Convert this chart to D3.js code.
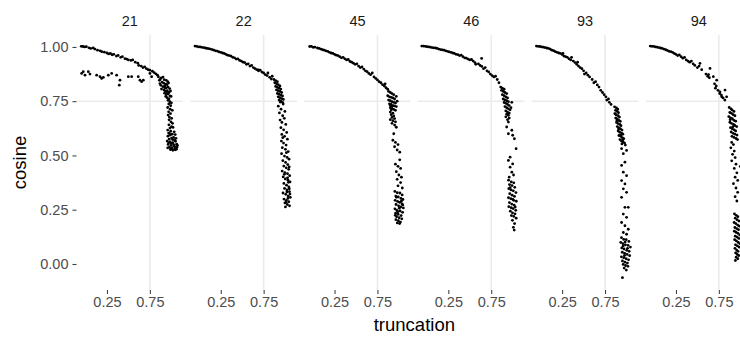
<!DOCTYPE html>
<html><head><meta charset="utf-8">
<script src="https://cdn.jsdelivr.net/npm/d3@7"></script>
<style>body{margin:0;background:#fff}svg{display:block}text{font-family:"Liberation Sans",Arial,sans-serif}</style>
</head><body>
<svg id="c" width="740" height="337"></svg>
<script>
const facets = ["21","22","45","46","93","94"];
const yTicks = [0, 0.25, 0.5, 0.75, 1];
const yTickLabels = ["0.00","0.25","0.50","0.75","1.00"];
const xTicks = [0.25, 0.75];
const xTickLabels = ["0.25","0.75"];
const refLines = {x: 0.75, y: 0.75};

const pts21 = [[-0.05,1.003],[-0.03,1.002],[-0.01,1.0],[0.01,1.001],[0.04,0.996],[0.06,0.993],[0.09,0.995],[0.11,0.99],[0.14,0.985],[0.17,0.982],[0.19,0.978],[0.22,0.976],[0.25,0.972],[0.27,0.968],[0.29,0.97],[0.31,0.964],[0.33,0.966],[0.36,0.958],[0.38,0.961],[0.41,0.952],[0.43,0.955],[0.46,0.946],[0.48,0.944],[0.50,0.94],[0.53,0.938],[0.55,0.94],[0.58,0.93],[0.61,0.925],[0.62,0.915],[0.65,0.912],[0.67,0.905],[0.69,0.908],[0.71,0.9],[0.73,0.895],[0.75,0.893],[0.78,0.888],[0.80,0.882],[0.82,0.876],[0.84,0.87],[0.85,0.862],[0.87,0.85],
[-0.045,0.878],[-0.026,0.886],[-0.006,0.87],[0.033,0.886],[0.052,0.875],[0.13,0.87],[0.169,0.863],[0.188,0.855],[0.208,0.86],[0.266,0.87],[0.305,0.878],[0.363,0.87],[0.402,0.847],[0.394,0.824],[0.499,0.863],[0.538,0.863],[0.615,0.863],[0.635,0.847],[0.654,0.84],[0.674,0.847],[0.751,0.878],[0.771,0.863],
[0.883,0.857],[0.904,0.861],[0.918,0.849],[0.942,0.846],[0.958,0.84],[0.893,0.838],[0.912,0.833],[0.934,0.829],[0.951,0.826],[0.968,0.834],[0.878,0.823],[0.902,0.817],[0.924,0.821],[0.939,0.811],[0.962,0.815],[0.981,0.808],[0.886,0.806],[0.915,0.802],[0.931,0.796],[0.953,0.799],[0.972,0.79],[0.991,0.797],[0.922,0.787],[0.944,0.781],[0.963,0.784],[0.984,0.774],[0.935,0.772],[0.951,0.766],[0.973,0.761],[0.998,0.772],[0.868,0.831],[0.861,0.846],[0.927,0.812],[0.947,0.793],
[0.962,0.754],[0.984,0.748],[1.001,0.742],[0.971,0.737],[0.993,0.729],[0.958,0.721],[0.987,0.713],[1.012,0.708],[0.969,0.701],[0.991,0.693],[0.963,0.686],[0.978,0.677],[1.004,0.671],[0.974,0.664],[0.996,0.655],[1.014,0.648],
[0.972,0.641],[1.003,0.633],[0.985,0.626],[1.021,0.629],[0.958,0.617],[0.993,0.612],[1.034,0.609],[0.969,0.603],[1.012,0.598],[1.046,0.596],[0.961,0.589],[0.989,0.594],[1.027,0.583],[1.055,0.579],[0.975,0.575],[1.004,0.58],[1.038,0.571],[0.952,0.566],[0.986,0.562],[1.017,0.559],[1.049,0.565],[1.063,0.552],[0.963,0.551],[0.997,0.546],[1.028,0.55],[1.057,0.541],[0.978,0.538],[1.008,0.535],[1.041,0.532],[1.066,0.537],[0.989,0.527],[1.019,0.524],[1.047,0.526],[0.958,0.535],[1.072,0.546],[1.001,0.556],[0.981,0.6],[1.043,0.568],[1.06,0.529],[0.97,0.559],[1.03,0.543],[1.015,0.573],[0.995,0.53]];

const pts22 = [[-0.05,1.004],[-0.03,1.003],[-0.01,1.0],[0.01,1.0],[0.03,0.998],[0.05,0.997],[0.07,0.995],[0.09,0.993],[0.11,0.992],[0.13,0.99],[0.15,0.988],[0.17,0.985],[0.19,0.982],[0.21,0.981],[0.23,0.977],[0.25,0.975],[0.27,0.972],[0.29,0.97],[0.31,0.966],[0.33,0.962],[0.35,0.96],[0.37,0.958],[0.39,0.952],[0.41,0.95],[0.43,0.944],[0.45,0.945],[0.47,0.938],[0.49,0.935],[0.51,0.93],[0.53,0.928],[0.55,0.92],[0.57,0.922],[0.59,0.912],[0.61,0.915],[0.63,0.905],[0.65,0.9],[0.67,0.895],[0.69,0.89],[0.71,0.893],[0.73,0.884],[0.75,0.88],[0.77,0.872],[0.79,0.868],[0.8,0.88],[0.82,0.86],[0.84,0.852],[0.85,0.865],[0.688,0.894],
[0.87,0.85],[0.89,0.845],[0.91,0.84],[0.88,0.835],[0.9,0.83],[0.92,0.826],[0.94,0.82],[0.89,0.818],[0.91,0.814],[0.93,0.81],[0.95,0.806],[0.9,0.802],[0.92,0.798],[0.94,0.795],[0.96,0.79],[0.91,0.786],[0.93,0.782],[0.95,0.778],[0.97,0.774],[0.92,0.77],[0.94,0.766],[0.96,0.762],[0.98,0.758],[0.93,0.755],[0.95,0.75],[0.97,0.745],
[0.943,0.746],[0.978,0.737],[0.921,0.727],[0.953,0.713],[0.998,0.703],[0.934,0.696],[0.972,0.683],[0.991,0.671],[0.942,0.663],[0.963,0.652],[1.008,0.643],[0.951,0.628],[0.983,0.618],[1.019,0.606],[0.962,0.597],[0.994,0.588],[1.027,0.575],[0.957,0.566],[0.982,0.557],[1.012,0.548],[0.968,0.536],[1.004,0.528],[1.037,0.518],[0.959,0.508],[0.993,0.497],[1.024,0.491],[1.046,0.483],[0.974,0.476],[1.006,0.468],[1.031,0.458],[0.985,0.451],[1.013,0.443],[1.042,0.436],[0.966,0.428],[0.997,0.421],[1.028,0.416],[1.053,0.407],[0.978,0.401],[1.003,0.392],[1.034,0.386],[1.058,0.378],[0.986,0.371],[1.017,0.363],[1.044,0.355],[0.994,0.348],[1.022,0.341],[1.051,0.333],[0.976,0.327],[1.008,0.321],[1.036,0.313],[1.061,0.307],[0.987,0.299],[1.014,0.293],[1.043,0.287],[0.998,0.281],[1.026,0.274],[1.052,0.268],[1.004,0.263],[1.033,0.302],[1.049,0.346],[1.029,0.397],[1.048,0.447],[1.015,0.513],[0.973,0.582],[1.021,0.331],[0.991,0.413],[1.039,0.376],[1.011,0.284],[1.057,0.322]];

const pts45 = [[-0.04,1.002],[-0.02,1.003],[0.0,0.998],[0.02,0.999],[0.05,0.995],[0.07,0.993],[0.09,0.99],[0.11,0.987],[0.13,0.985],[0.15,0.982],[0.17,0.98],[0.19,0.975],[0.21,0.972],[0.23,0.97],[0.25,0.966],[0.27,0.962],[0.29,0.96],[0.31,0.955],[0.33,0.95],[0.35,0.952],[0.37,0.945],[0.39,0.94],[0.41,0.942],[0.43,0.933],[0.45,0.93],[0.47,0.925],[0.49,0.92],[0.51,0.922],[0.53,0.912],[0.55,0.905],[0.57,0.908],[0.59,0.898],[0.61,0.89],[0.63,0.886],[0.65,0.878],[0.67,0.872],[0.69,0.88],[0.71,0.862],[0.73,0.855],[0.75,0.848],[0.77,0.84],[0.79,0.835],[0.81,0.826],[0.83,0.82],[0.85,0.812],[0.87,0.805],[0.84,0.83],
[0.88,0.795],[0.9,0.79],[0.92,0.785],[0.94,0.78],[0.87,0.775],[0.89,0.77],[0.91,0.768],[0.93,0.765],[0.95,0.76],[0.97,0.772],[0.88,0.755],[0.9,0.752],[0.92,0.748],[0.94,0.745],[0.96,0.742],[0.98,0.75],[0.89,0.738],[0.91,0.735],[0.93,0.73],[0.95,0.728],[0.97,0.725],[0.9,0.72],[0.92,0.716],[0.94,0.712],[0.96,0.708],[0.9,0.73],[0.92,0.725],[0.91,0.71],
[0.9,0.7],[0.93,0.695],[0.91,0.688],[0.94,0.682],[0.92,0.675],[0.95,0.67],[0.9,0.665],[0.93,0.66],[0.96,0.655],[0.92,0.648],[0.95,0.64],[0.97,0.63],[0.94,0.6],[0.93,0.57],[0.96,0.56],[0.99,0.55],[0.95,0.54],[0.98,0.525],[1.01,0.515],[1.01,0.48],[0.96,0.46],[0.99,0.45],[1.02,0.44],[0.97,0.425],[1.0,0.41],[1.03,0.4],[0.98,0.39],[1.02,0.375],[0.99,0.36],[1.04,0.35],
[0.953,0.334],[0.981,0.328],[1.012,0.327],[1.038,0.318],[0.964,0.313],[0.993,0.309],[1.024,0.302],[1.047,0.297],[0.956,0.293],[0.985,0.288],[1.008,0.284],[1.036,0.277],[0.967,0.274],[0.996,0.268],[1.021,0.263],[1.052,0.258],[0.954,0.254],[0.977,0.247],[1.014,0.244],[1.043,0.238],[0.962,0.234],[0.991,0.229],[1.026,0.223],[0.973,0.218],[1.003,0.213],[1.034,0.208],[0.965,0.204],[0.994,0.199],[1.018,0.193],[0.982,0.189],[1.009,0.186],[1.004,0.257],[0.972,0.307],[1.028,0.289],[0.987,0.241],[1.045,0.272],[0.958,0.224]];

const pts46 = [[-0.06,1.004],[-0.04,1.004],[-0.02,1.003],[0.0,1.001],[0.02,1.0],[0.04,0.999],[0.06,0.997],[0.08,0.996],[0.1,0.995],[0.12,0.993],[0.14,0.99],[0.16,0.988],[0.18,0.986],[0.2,0.985],[0.22,0.982],[0.24,0.98],[0.26,0.977],[0.28,0.975],[0.3,0.972],[0.32,0.97],[0.34,0.966],[0.36,0.965],[0.38,0.96],[0.4,0.962],[0.42,0.955],[0.44,0.95],[0.46,0.948],[0.48,0.944],[0.5,0.94],[0.52,0.942],[0.54,0.935],[0.56,0.928],[0.57,0.92],[0.6,0.922],[0.62,0.915],[0.64,0.91],[0.638,0.947],[0.66,0.9],[0.68,0.905],[0.7,0.89],[0.72,0.885],[0.74,0.875],[0.76,0.868],[0.78,0.862],[0.8,0.865],[0.82,0.85],[0.84,0.835],
[0.86,0.815],[0.88,0.81],[0.9,0.805],[0.87,0.8],[0.89,0.795],[0.91,0.79],[0.93,0.785],[0.88,0.78],[0.9,0.775],[0.92,0.77],[0.94,0.765],[0.89,0.76],[0.91,0.756],[0.93,0.752],[0.95,0.748],[0.9,0.744],[0.92,0.74],[0.94,0.735],[0.96,0.73],[0.91,0.725],[0.93,0.72],[0.95,0.715],[0.97,0.71],[0.92,0.705],[0.94,0.7],[0.96,0.695],[0.98,0.72],[0.99,0.745],
[0.93,0.69],[0.95,0.685],[0.92,0.678],[0.96,0.672],[0.94,0.665],[0.95,0.654],[0.93,0.631],[0.99,0.616],[0.95,0.6],[1.0,0.593],[1.02,0.577],[1.04,0.531],[0.97,0.492],[0.95,0.477],[1.0,0.461],[0.97,0.446],[0.99,0.423],[1.01,0.41],[0.96,0.4],
[0.952,0.386],[0.984,0.378],[1.013,0.374],[0.963,0.366],[0.992,0.361],[1.024,0.353],[0.955,0.347],[0.981,0.341],[1.007,0.337],[1.038,0.329],[0.966,0.324],[0.994,0.317],[1.021,0.311],[0.951,0.305],[0.978,0.301],[1.012,0.293],[1.042,0.289],[0.962,0.283],[0.989,0.276],[1.018,0.271],[0.955,0.264],[0.983,0.259],[1.006,0.255],[1.036,0.247],[0.973,0.243],[0.998,0.235],[1.027,0.231],[0.985,0.223],[1.013,0.219],[1.041,0.211],[0.997,0.201],[1.022,0.186],[1.008,0.169],[1.018,0.156],[1.03,0.262],[0.97,0.352],[1.001,0.298]];

const pts93 = [[-0.05,1.004],[-0.03,1.003],[-0.01,1.002],[0.01,1.0],[0.03,0.999],[0.05,0.997],[0.07,0.995],[0.09,0.993],[0.11,0.99],[0.13,0.985],[0.15,0.983],[0.17,0.978],[0.19,0.975],[0.21,0.972],[0.23,0.97],[0.25,0.965],[0.27,0.958],[0.26,0.97],[0.29,0.955],[0.31,0.952],[0.33,0.945],[0.35,0.94],[0.36,0.952],[0.38,0.935],[0.4,0.928],[0.42,0.92],[0.44,0.912],[0.43,0.93],[0.46,0.905],[0.48,0.9],[0.5,0.89],[0.51,0.875],[0.53,0.88],[0.55,0.87],[0.57,0.862],[0.6,0.85],[0.62,0.835],[0.64,0.84],[0.66,0.825],[0.68,0.815],[0.7,0.8],[0.72,0.79],[0.74,0.78],[0.76,0.77],[0.77,0.755],[0.79,0.76],[0.8,0.745],[0.82,0.735],
[0.861,0.724],[0.883,0.719],[0.898,0.713],[0.872,0.708],[0.892,0.703],[0.907,0.697],[0.864,0.693],[0.881,0.686],[0.903,0.683],[0.918,0.677],[0.874,0.672],[0.893,0.668],[0.912,0.661],[0.928,0.657],[0.884,0.652],[0.901,0.647],[0.923,0.643],[0.936,0.637],[0.893,0.633],[0.914,0.627],[0.931,0.622],[0.948,0.617],[0.903,0.613],[0.921,0.607],[0.943,0.603],[0.958,0.598],[0.912,0.592],[0.933,0.588],[0.951,0.582],[0.968,0.577],[0.924,0.573],[0.941,0.566],[0.962,0.562],[0.978,0.557],[0.947,0.553],[0.987,0.548],[0.871,0.691],[0.888,0.66],[0.908,0.622],[0.937,0.594],[0.955,0.571],
[0.943,0.531],[1.001,0.523],[0.963,0.508],[0.982,0.469],[0.943,0.454],[0.963,0.423],[1.001,0.407],[0.943,0.384],[0.982,0.369],[0.963,0.346],[1.001,0.33],[0.943,0.307],[0.982,0.261],[1.021,0.261],[0.963,0.23],[1.001,0.215],[0.943,0.191],[0.982,0.176],[1.021,0.16],[0.963,0.145],[1.001,0.137],
[0.942,0.121],[0.968,0.113],[0.997,0.112],[1.028,0.104],[0.933,0.099],[0.958,0.094],[0.987,0.088],[1.018,0.086],[1.046,0.078],[0.945,0.074],[0.972,0.069],[1.003,0.063],[1.031,0.058],[0.951,0.054],[0.979,0.049],[1.008,0.044],[1.037,0.038],[0.941,0.033],[0.968,0.029],[0.996,0.024],[1.024,0.019],[0.953,0.014],[0.982,0.008],[1.011,0.004],[0.961,-0.002],[0.989,-0.007],[1.017,-0.011],[0.973,-0.019],[0.998,-0.028],[0.953,-0.063],[0.961,0.083],[1.013,0.072],[0.985,0.101],[0.977,0.039]];

const pts94 = [[-0.05,1.004],[-0.03,1.003],[-0.01,1.003],[0.01,1.0],[0.03,0.999],[0.05,0.997],[0.07,0.995],[0.09,0.993],[0.11,0.99],[0.13,0.987],[0.15,0.984],[0.17,0.98],[0.19,0.978],[0.21,0.975],[0.23,0.97],[0.25,0.966],[0.27,0.96],[0.29,0.963],[0.31,0.955],[0.33,0.948],[0.35,0.952],[0.37,0.94],[0.39,0.935],[0.41,0.93],[0.43,0.935],[0.45,0.922],[0.47,0.915],[0.5,0.905],[0.53,0.924],[0.52,0.912],[0.55,0.895],[0.6,0.875],[0.647,0.901],[0.62,0.865],[0.64,0.858],[0.63,0.872],[0.686,0.863],[0.725,0.847],[0.7,0.83],[0.72,0.82],[0.71,0.81],[0.74,0.8],[0.763,0.793],[0.76,0.785],[0.78,0.778],[0.822,0.801],[0.8,0.765],[0.783,0.77],[0.841,0.77],[0.82,0.755],
[0.871,0.721],[0.893,0.714],[0.906,0.709],[0.927,0.703],[0.878,0.698],[0.898,0.694],[0.917,0.688],[0.938,0.683],[0.866,0.679],[0.887,0.673],[0.908,0.669],[0.926,0.662],[0.947,0.658],[0.879,0.653],[0.897,0.648],[0.921,0.643],[0.936,0.638],[0.958,0.633],[0.886,0.628],[0.907,0.623],[0.928,0.618],[0.946,0.613],[0.894,0.608],[0.917,0.602],[0.938,0.598],[0.962,0.594],[0.903,0.588],[0.926,0.583],[0.951,0.578],[0.968,0.573],[0.882,0.665],[0.913,0.632],
[0.9,0.56],[0.92,0.55],[0.89,0.535],[0.93,0.52],[0.91,0.505],[0.94,0.49],[0.9,0.475],[0.95,0.46],[0.93,0.44],[0.96,0.42],[0.94,0.4],[0.97,0.385],[0.92,0.37],[0.95,0.35],[0.97,0.33],[0.94,0.31],[0.96,0.29],[1.0,0.45],[1.02,0.38],[1.03,0.3],
[0.932,0.231],[0.953,0.224],[0.972,0.218],[0.941,0.211],[0.962,0.204],[0.984,0.198],[0.928,0.191],[0.948,0.186],[0.969,0.179],[0.991,0.174],[0.937,0.168],[0.958,0.163],[0.979,0.158],[0.931,0.151],[0.951,0.146],[0.973,0.141],[0.993,0.134],[0.942,0.128],[0.963,0.124],[0.983,0.118],[0.934,0.112],[0.955,0.106],[0.976,0.099],[0.996,0.094],[0.944,0.088],[0.966,0.083],[0.986,0.078],[0.938,0.072],[0.957,0.064],[0.974,0.058],[0.946,0.051],[0.965,0.044],[0.982,0.039],[0.952,0.031],[0.971,0.024],[0.943,0.016],[1.012,0.103],[1.028,0.152],[1.021,0.198]];

const series = [pts21, pts22, pts45, pts46, pts93, pts94];

// layout
const panelW = 106.7, panelStep = 113.8, firstLeft = 76.5;
const panelTop = 35, panelBottom = 290;
const svg = d3.select("#c");
const font = '"Liberation Sans",Arial,sans-serif';

const y = d3.scaleLinear().domain([-0.12, 1.055]).range([panelBottom, panelTop]);

// y axis
const yAxis = svg.append("g").attr("transform", `translate(${firstLeft},0)`)
  .call(d3.axisLeft(y).tickValues(yTicks).tickFormat((d,i)=>yTickLabels[i]).tickSize(4).tickPadding(4));
yAxis.select(".domain").remove();
yAxis.selectAll("line").attr("stroke", "#333").attr("stroke-width", 1);
yAxis.selectAll("text").attr("fill", "#4D4D4D").style("font-size", "14.5px").style("font-family", font);

svg.append("text").attr("transform", `translate(26,${(panelTop+panelBottom)/2}) rotate(-90)`)
  .attr("text-anchor", "middle").style("font-size", "18.5px").style("font-family", font).attr("fill", "#000").text("cosine");

facets.forEach((f, i) => {
  const left = firstLeft + i * panelStep;
  const x = d3.scaleLinear().domain([-0.105, 1.139]).range([left, left + panelW]);
  const g = svg.append("g");
  const clipId = "clip" + i;
  svg.append("clipPath").attr("id", clipId).append("rect")
    .attr("x", left).attr("y", panelTop).attr("width", panelW).attr("height", panelBottom - panelTop);
  const pg = g.append("g").attr("clip-path", `url(#${clipId})`);
  pg.append("line").attr("x1", left).attr("x2", left + panelW)
    .attr("y1", y(refLines.y)).attr("y2", y(refLines.y)).attr("stroke", "#EBEBEB").attr("stroke-width", 1.6);
  pg.append("line").attr("x1", x(refLines.x)).attr("x2", x(refLines.x))
    .attr("y1", panelTop).attr("y2", panelBottom).attr("stroke", "#EBEBEB").attr("stroke-width", 1.6);
  pg.selectAll("circle").data(series[i]).join("circle")
    .attr("cx", d => x(d[0])).attr("cy", d => y(d[1])).attr("r", 1.4).attr("fill", "#000");

  const xa = g.append("g").attr("transform", `translate(0,${panelBottom})`)
    .call(d3.axisBottom(x).tickValues(xTicks).tickFormat((d,k)=>xTickLabels[k]).tickSize(4).tickPadding(3));
  xa.select(".domain").remove();
  xa.selectAll("line").attr("stroke", "#333").attr("stroke-width", 1);
  xa.selectAll("text").attr("fill", "#4D4D4D").style("font-size", "14.5px").style("font-family", font);

  svg.append("text").attr("x", left + panelW / 2).attr("y", 26).attr("text-anchor", "middle")
    .style("font-size", "14.5px").style("font-family", font).attr("fill", "#1A1A1A").text(f);
});

const totalLeft = firstLeft, totalRight = firstLeft + 5 * panelStep + panelW;
svg.append("text").attr("x", (totalLeft + totalRight) / 2).attr("y", 331).attr("text-anchor", "middle")
  .style("font-size", "18.5px").style("font-family", font).attr("fill", "#000").text("truncation");
</script>
</body></html>
